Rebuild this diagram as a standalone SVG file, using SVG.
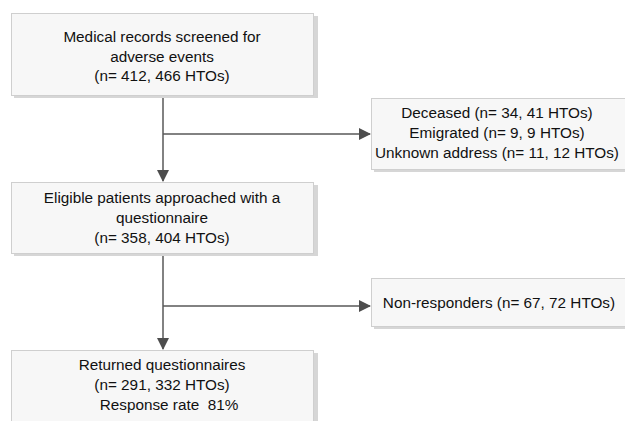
<svg xmlns="http://www.w3.org/2000/svg" width="625" height="421" viewBox="0 0 625 421">
<style>
.box{fill:#f7f7f7;stroke:#cfcfcf;stroke-width:1}
.shadow{fill:#d6d6d6}
.t{font-family:"Liberation Sans",Arial,sans-serif;font-size:15.3px;fill:#111;text-anchor:middle;white-space:pre}
.c{stroke:#595959;stroke-width:1.5;fill:none}
</style>
<defs>
<marker id="ah" markerUnits="userSpaceOnUse" markerWidth="12" markerHeight="12" refX="11" refY="6" orient="auto">
<path d="M0,0 L12,6 L0,12 z" fill="#4d4d4d"/>
</marker>
</defs>
<rect width="625" height="421" fill="#fff"/>
<g id="connectors">
<line class="c" x1="163" y1="95" x2="163" y2="181" marker-end="url(#ah)"/>
<line class="c" x1="163" y1="134" x2="370" y2="134" marker-end="url(#ah)"/>
<line class="c" x1="163" y1="253" x2="163" y2="349" marker-end="url(#ah)"/>
<line class="c" x1="163" y1="306" x2="370" y2="306" marker-end="url(#ah)"/>
</g>
<g id="n1">
<rect class="shadow" x="14" y="16" width="304" height="82"/>
<rect class="box" x="11.5" y="13.5" width="302" height="82"/>
<text class="t" x="162" y="42">Medical records screened for</text>
<text class="t" x="162" y="62">adverse events</text>
<text class="t" x="162" y="81">(n= 412, 466 HTOs)</text>
</g>
<g id="n2">
<rect class="shadow" x="374" y="101" width="260" height="71"/>
<rect class="box" x="371.5" y="98.5" width="260" height="71"/>
<text class="t" x="497" y="118">Deceased (n= 34, 41 HTOs)</text>
<text class="t" x="497" y="138">Emigrated (n= 9, 9 HTOs)</text>
<text class="t" x="497" y="158">Unknown address (n= 11, 12 HTOs)</text>
</g>
<g id="n3">
<rect class="shadow" x="14" y="185" width="304" height="71"/>
<rect class="box" x="11.5" y="182.5" width="302" height="71"/>
<text class="t" x="162" y="203">Eligible patients approached with a</text>
<text class="t" x="162" y="223">questionnaire</text>
<text class="t" x="162" y="243">(n= 358, 404 HTOs)</text>
</g>
<g id="n4">
<rect class="shadow" x="374" y="281" width="260" height="48"/>
<rect class="box" x="371.5" y="278.5" width="260" height="48"/>
<text class="t" x="499" y="308">Non-responders (n= 67, 72 HTOs)</text>
</g>
<g id="n5">
<rect class="shadow" x="14" y="353" width="304" height="80"/>
<rect class="box" x="11.5" y="350.5" width="302" height="80"/>
<text class="t" x="162" y="370">Returned questionnaires</text>
<text class="t" x="162" y="390">(n= 291, 332 HTOs)</text>
<text class="t" x="169" y="410">Response rate  81%</text>
</g>
</svg>
